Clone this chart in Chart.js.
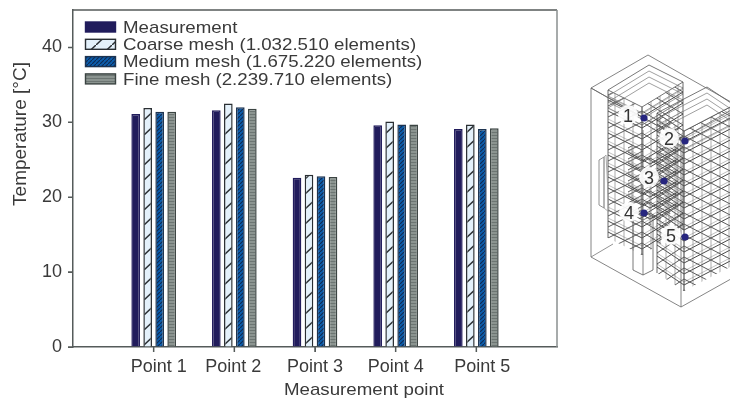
<!DOCTYPE html>
<html>
<head>
<meta charset="utf-8">
<script src="https://cdn.jsdelivr.net/npm/chart.js@4/dist/chart.umd.min.js"></script>
<style>
  html, body { margin: 0; padding: 0; background: #fff; overflow: hidden; }
  #wrap { position: relative; width: 730px; height: 401px; }
  #chart, #mesh { position: absolute; left: 0; top: 0; }
</style>
</head>
<body>
<div id="wrap">
  <canvas id="chart" width="730" height="401"></canvas>
  <svg id="mesh" width="730" height="401"></svg>
</div>
<script>
// ===== DATA =====
const categories = ['', 'Point 1', 'Point 2', 'Point 3', 'Point 4', 'Point 5', ''];
const measurement = [null, 31.1, 31.6, 22.6, 29.6, 29.1, null];
const coarseMesh = [null, 31.9, 32.5, 23.0, 30.1, 29.7, null];
const mediumMesh = [null, 31.4, 32.0, 22.8, 29.7, 29.1, null];
const fineMesh = [null, 31.4, 31.8, 22.7, 29.7, 29.2, null];
const yTicks = [0, 10, 20, 30, 40];
const seriesNames = [
  'Measurement',
  'Coarse mesh (1.032.510 elements)',
  'Medium mesh (1.675.220 elements)',
  'Fine mesh (2.239.710 elements)'
];

const FONT = '"Liberation Sans", Arial, sans-serif';
const TEXT = '#3a3a3a';
const AXIS = '#555b5a';
// x labels in the reference do not sit exactly under their ticks
const labelShift = [5, -1, 0, 0, 6];

// === Bar fill patterns ===
function tile(w, h, draw) {
  const c = document.createElement('canvas');
  c.width = w; c.height = h;
  draw(c.getContext('2d'));
  return c.getContext('2d').createPattern(c, 'repeat');
}

const coarseFill = tile(16, 15, g => {
  g.fillStyle = '#e4f1fb';
  g.fillRect(0, 0, 16, 15);
  g.strokeStyle = '#2a2f33';
  g.lineWidth = 1.4;
  g.beginPath();
  g.moveTo(-1, 16); g.lineTo(17, -1);
  g.stroke();
});

const mediumFill = tile(4, 4, g => {
  g.fillStyle = '#0c5dab';
  g.fillRect(0, 0, 4, 4);
  g.strokeStyle = '#0f2a52';
  g.lineWidth = 1.1;
  g.beginPath();
  g.moveTo(-1, 5); g.lineTo(5, -1);
  g.stroke();
});

const fineFill = tile(3, 3, g => {
  g.fillStyle = '#8b9490';
  g.fillRect(0, 0, 3, 3);
  g.fillStyle = '#6c7572';
  g.fillRect(0, 0, 3, 1);
});

// the reference text is slightly stretched sideways
function wideText(ctx, text, x, y, stretch) {
  ctx.save();
  ctx.translate(x, y);
  ctx.scale(stretch, 1);
  ctx.fillText(text, 0, 0);
  ctx.restore();
}

// === Plugins: label nudge, frame, ticks, legend and axis titles ===
const nudgePlugin = {
  id: 'labelNudge',
  beforeDraw(chart) {
    chart.scales.x.getLabelItems().forEach((item, i) => {
      item.options.translation[0] += labelShift[i];
    });
  }
};

const framePlugin = {
  id: 'frame',
  afterDraw(chart) {
    const { ctx, chartArea: a, scales } = chart;
    ctx.save();
    ctx.strokeStyle = AXIS;
    ctx.lineWidth = 1.5;
    ctx.beginPath();
    ctx.moveTo(a.left, a.top);
    ctx.lineTo(a.right, a.top);
    // tick marks, from the scales
    scales.y.ticks.forEach(t => {
      const y = scales.y.getPixelForValue(t.value);
      ctx.moveTo(a.left - 5, y);
      ctx.lineTo(a.left, y);
    });
    scales.x.ticks.forEach(t => {
      const x = scales.x.getPixelForValue(t.value);
      ctx.moveTo(x, a.bottom);
      ctx.lineTo(x, a.bottom + 5);
    });
    ctx.stroke();
    ctx.strokeStyle = '#8a8f8f';
    ctx.beginPath();
    ctx.moveTo(a.right, a.top);
    ctx.lineTo(a.right, a.bottom);
    ctx.stroke();
    ctx.restore();
  }
};

const legendPlugin = {
  id: 'meshLegend',
  afterDraw(chart) {
    const { ctx } = chart;
    ctx.save();
    ctx.font = '17px ' + FONT;
    ctx.textBaseline = 'middle';
    chart.data.datasets.forEach((ds, i) => {
      const y = 22 + i * 17.3;
      ctx.fillStyle = ds.backgroundColor;
      ctx.strokeStyle = ds.borderColor;
      ctx.lineWidth = 1.4;
      ctx.fillRect(85.5, y, 30, 10);
      ctx.strokeRect(85.5, y, 30, 10);
      ctx.fillStyle = TEXT;
      wideText(ctx, ds.label, 123, y + 6, 1.1);
    });
    ctx.restore();
  }
};

const titlePlugin = {
  id: 'axisTitles',
  afterDraw(chart) {
    const { ctx } = chart;
    ctx.save();
    ctx.font = '17px ' + FONT;
    ctx.fillStyle = TEXT;
    ctx.textAlign = 'center';
    ctx.textBaseline = 'middle';
    wideText(ctx, 'Measurement point', 364, 390, 1.1);
    ctx.font = '19px ' + FONT;
    ctx.translate(21, 134);
    ctx.rotate(-Math.PI / 2);
    ctx.fillText('Temperature [°C]', 0, 0);
    ctx.restore();
  }
};

function series(label, data, fill, border) {
  return {
    label, data,
    backgroundColor: fill,
    borderColor: border,
    borderWidth: 1.5,
    categoryPercentage: 0.595,
    barPercentage: 0.72
  };
}

new Chart(document.getElementById('chart'), {
  type: 'bar',
  data: {
    labels: categories,
    datasets: [
      series(seriesNames[0], measurement, '#211c5c', '#211c5c'),
      series(seriesNames[1], coarseMesh, coarseFill, '#2a2f33'),
      series(seriesNames[2], mediumMesh, mediumFill, '#1d3350'),
      series(seriesNames[3], fineMesh, fineFill, '#3b4442')
    ]
  },
  plugins: [nudgePlugin, framePlugin, legendPlugin, titlePlugin],
  options: {
    responsive: false,
    animation: false,
    layout: { padding: { top: 10, right: 173, left: 0, bottom: 0 } },
    plugins: { legend: { display: false }, tooltip: { enabled: false } },
    scales: {
      x: {
        offset: false,
        grid: { offset: false, drawOnChartArea: false, tickLength: 5, tickColor: AXIS },
        border: { color: AXIS, width: 1.5 },
        ticks: { color: TEXT, font: { family: FONT, size: 18 }, autoSkip: false, maxRotation: 0, padding: 4 },
        afterBuildTicks: s => { s.ticks = s.ticks.filter(t => categories[t.value]); },
        afterFit: s => { s.height = 54; s.paddingLeft = 0; s.paddingRight = 0; }
      },
      y: {
        min: 0,
        max: 45,
        grid: { drawOnChartArea: false, tickLength: 5, tickColor: AXIS },
        border: { color: AXIS, width: 1.5 },
        ticks: { color: TEXT, font: { family: FONT, size: 18 }, padding: 6 },
        afterBuildTicks: s => { s.ticks = yTicks.map(value => ({ value })); },
        afterFit: s => { s.width = 73; s.paddingTop = 0; s.paddingBottom = 0; }
      }
    }
  }
});

// ===== MESH SKETCH (right side) =====
const svg = document.getElementById('mesh');
const NS = 'http://www.w3.org/2000/svg';
function el(name, attrs, parent) {
  const e = document.createElementNS(NS, name);
  for (const k in attrs) e.setAttribute(k, attrs[k]);
  (parent || svg).appendChild(e);
  return e;
}
function line(x1, y1, x2, y2, color, width, parent) {
  el('line', { x1, y1, x2, y2, stroke: color || '#666', 'stroke-width': width || 0.8 }, parent);
}
function poly(pts, color, width) {
  el('polygon', { points: pts.map(p => p.join(',')).join(' '), fill: 'none', stroke: color || '#666', 'stroke-width': width || 0.8 });
}

let clipId = 0;
// lattice on a parallelogram face: p = bottom corner, u = side along the floor, h = height
function face(p, u, h, step, cell) {
  const id = 'c' + (clipId++);
  const clip = el('clipPath', { id });
  el('polygon', { points: [p, [p[0] + u[0], p[1] + u[1]], [p[0] + u[0], p[1] + u[1] - h], [p[0], p[1] - h]].map(q => q.join(',')).join(' ') }, clip);
  const g = el('g', { 'clip-path': 'url(#' + id + ')' });
  const s = u[1] / u[0];
  const x0 = p[0], x1 = p[0] + u[0];
  for (let y = p[1] + 60; y > p[1] - h - 60; y -= step) {
    line(x0, y, x1, y + s * (x1 - x0), '#4a4a4a', 1, g);
    line(x0, y - 3, x1, y - 3 + s * (x1 - x0), '#999', 0.6, g);
  }
  for (let y = p[1] + 120; y > p[1] - h - 120; y -= cell) {
    line(x0, y, x1, y - s * (x1 - x0), '#4a4a4a', 0.9, g);
  }
  const dir = Math.sign(u[0]);
  for (let x = x0; Math.abs(x - x0) < Math.abs(u[0]); x += dir * 9) {
    line(x, p[1] + 40, x, p[1] - h - 40, '#777', 0.6, g);
  }
}
// one rack: f = front bottom corner, a = left side, b = right side, h = height
function rack(f, a, b, h, step, cell) {
  face(f, a, h, step, cell);
  face(f, b, h, step, cell);
  const top = [f[0], f[1] - h];
  const ta = [top[0] + a[0], top[1] + a[1]];
  const tb = [top[0] + b[0], top[1] + b[1]];
  const tc = [ta[0] + b[0], ta[1] + b[1]];
  poly([top, ta, tc, tb], '#555');
  for (let i = 1; i <= 3; i++) {
    const d = i * 6;
    poly([[top[0], top[1] + d], [ta[0], ta[1] + d], [tc[0], tc[1] + d], [tb[0], tb[1] + d]], '#777', 0.7);
  }
  line(f[0], f[1], top[0], top[1], '#444');
  line(f[0] + a[0], f[1] + a[1], ta[0], ta[1], '#444');
  line(f[0] + b[0], f[1] + b[1], tb[0], tb[1], '#444');
}

// back rack, narrow centre column, front rack, outer box
rack([642, 255], [-34, -17], [41, -25], 148, 11, 11);
poly([[633, 270], [643, 275], [653, 270], [653, 215], [643, 220], [633, 215]], '#555');
line(643, 275, 643, 130, '#666');
rack([684, 291], [-27, -18], [50, -26], 160, 11, 11);
poly([[599, 160], [604, 157], [604, 208], [599, 205]], '#777');
poly([[604, 157], [606, 155], [609, 212], [604, 208]], '#999');
face([650, 225], [-22, -12], 70, 11, 11);
face([650, 225], [28, -16], 70, 11, 11);

poly([[591, 88], [648, 55], [738, 106], [681, 139]], '#666');
poly([[591, 88], [591, 257], [681, 307], [681, 139]], '#666');
line(681, 307, 738, 275, '#666');
line(591, 257, 613, 244, '#777');

// numbered measurement points
const pointNames = ['1', '2', '3', '4', '5'];
const labelPos = [[628, 115], [669, 138], [649, 177], [629, 212], [671, 235]];
const dotPos = [[644, 118], [685, 141], [664, 181], [644, 213], [685, 237]];
pointNames.forEach((name, i) => {
  el('circle', { cx: labelPos[i][0], cy: labelPos[i][1], r: 10, fill: '#fff', opacity: 0.92 });
  const t = el('text', {
    x: labelPos[i][0], y: labelPos[i][1] + 6.5, 'text-anchor': 'middle',
    'font-family': 'Liberation Sans, Arial, sans-serif', 'font-size': 18, fill: '#333'
  });
  t.textContent = name;
  el('circle', { cx: dotPos[i][0], cy: dotPos[i][1], r: 3.6, fill: '#27267f' });
});
</script>
</body>
</html>
